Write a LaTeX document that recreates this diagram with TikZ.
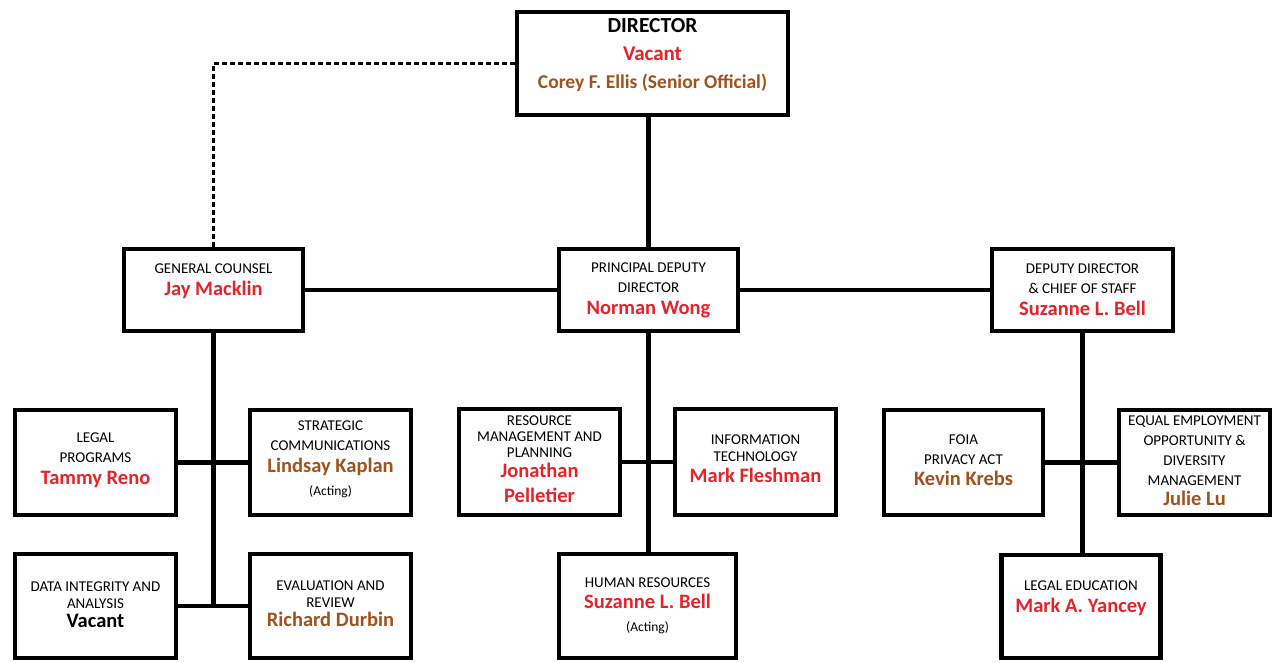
\documentclass[tikz,border=0pt]{standalone}
\usepackage{fontspec}
\setmainfont{Carlito}
\usetikzlibrary{calc}
\definecolor{namered}{HTML}{E52329}
\definecolor{namebrown}{HTML}{A0521E}
% office titles, person names, small notes
\newcommand\lb[1]{{\fontsize{15}{18}\selectfont #1}}
\newcommand\nm[2]{{\fontsize{20.5}{22}\selectfont\bfseries\color{#1}#2}}
\newcommand\nt[1]{{\fontsize{13.5}{16}\selectfont #1}}
\begin{document}
\begin{tikzpicture}[x=1pt,y=-1pt,
  box/.style={draw, line width=4.5pt, rectangle, inner sep=0pt, fill=white},
  link/.style={line width=4.5pt},
  dotlink/.style={line width=2.6pt, dash pattern=on 5pt off 3pt},
  txt/.style={align=center, inner sep=0pt, font=\fontsize{15}{20}\selectfont}]
\useasboundingbox (0,0) rectangle (1273,663);
\fill[white] (0,0) rectangle (1273,663);

% boxes
\node[box, minimum width=271pt, minimum height=103pt] (dir) at (652.5,63.5) {};
\node[box, minimum width=179pt, minimum height=82pt] (gc) at (213.5,290) {};
\node[box, minimum width=179pt, minimum height=82pt] (pd) at (648.5,290) {};
\node[box, minimum width=181pt, minimum height=82pt] (dd) at (1082.5,290) {};

\node[box, minimum width=161pt, minimum height=105pt] (lp) at (95.5,462.5) {};
\node[box, minimum width=161pt, minimum height=105pt] (sc) at (330.5,462.5) {};
\node[box, minimum width=161pt, minimum height=104pt] (di) at (95.5,606) {};
\node[box, minimum width=161pt, minimum height=104pt] (er) at (330.5,606) {};

\node[box, minimum width=161pt, minimum height=106pt] (rm) at (539.5,462) {};
\node[box, minimum width=161pt, minimum height=106pt] (it) at (755.5,462) {};
\node[box, minimum width=177pt, minimum height=104pt] (hr) at (647.5,606) {};

\node[box, minimum width=159pt, minimum height=105pt] (fo) at (963.5,462.5) {};
\node[box, minimum width=151pt, minimum height=105pt] (eeo) at (1194.5,462.5) {};
\node[box, minimum width=159pt, minimum height=103pt] (le) at (1081,606.5) {};

% connectors
\draw[dotlink] (dir.west) -| (gc.north);
\draw[link] (pd.north |- dir.south) -- (pd.north);
\draw[link] (gc.east) -- (pd.west);
\draw[link] (pd.east) -- (dd.west);

\draw[link] (gc.south) -- (gc.south |- di.east);
\draw[link] (lp.east) -- (sc.west);
\draw[link] (di.east) -- (er.west);

\draw[link] (pd.south) -- (pd.south |- hr.north);
\draw[link] (rm.east) -- (it.west);

\draw[link] (dd.south) -- (dd.south |- le.north);
\draw[link] (fo.east) -- (eeo.west);

% texts
\node[txt] (dir-t) at (652.5,55) {{\fontsize{21.5}{28}\selectfont\bfseries DIRECTOR}\\[8pt]
  {\fontsize{21}{28}\selectfont\bfseries\color{namered}Vacant}\\[8pt]
  {\fontsize{19.5}{28}\selectfont\bfseries\color{namebrown}Corey F. Ellis (Senior Official)}};
\node[txt] (gc-t) at (213.5,281) {\lb{GENERAL COUNSEL}\\[2pt] \nm{namered}{Jay Macklin}};
\node[txt] (pd-t) at (648.5,290) {\lb{PRINCIPAL DEPUTY}\\ \lb{DIRECTOR}\\[2pt] \nm{namered}{Norman Wong}};
\node[txt] (dd-t) at (1082.5,290) {\lb{DEPUTY DIRECTOR}\\ \lb{\& CHIEF OF STAFF}\\[2pt] \nm{namered}{Suzanne L. Bell}};

\node[txt] (lp-t) at (95.5,460.5) {\lb{LEGAL}\\ \lb{PROGRAMS}\\[2pt] \nm{namered}{Tammy Reno}};
\node[txt] (sc-t) at (330.5,459) {\lb{STRATEGIC}\\ \lb{COMMUNICATIONS}\\[2pt] \nm{namebrown}{Lindsay Kaplan}\\[3pt] \nt{(Acting)}};
\node[txt] (di-t) at (95.5,604.5) {\lb{DATA INTEGRITY AND}\\[-3pt] \lb{ANALYSIS}\\[-1pt] \nm{black}{Vacant}};
\node[txt] (er-t) at (330.5,604) {\lb{EVALUATION AND}\\[-3pt] \lb{REVIEW}\\[-1pt] \nm{namebrown}{Richard Durbin}};

\node[txt] (rm-t) at (539.5,459) {\lb{RESOURCE}\\[-4pt] \lb{MANAGEMENT AND}\\[-4pt] \lb{PLANNING}\\ \nm{namered}{Jonathan}\\[5pt] \nm{namered}{Pelletier}};
\node[txt] (it-t) at (755.5,459) {\lb{INFORMATION}\\[-3pt] \lb{TECHNOLOGY}\\[1pt] \nm{namered}{Mark Fleshman}};
\node[txt] (hr-t) at (647.5,606) {\lb{HUMAN RESOURCES}\\[1pt] \nm{namered}{Suzanne L. Bell}\\[3pt] \nt{(Acting)}};

\node[txt] (fo-t) at (963.5,460.5) {\lb{FOIA}\\ \lb{PRIVACY ACT}\\[1pt] \nm{namebrown}{Kevin Krebs}};
\node[txt] (eeo-t) at (1194.5,460.5) {\lb{EQUAL EMPLOYMENT}\\ \lb{OPPORTUNITY \&}\\ \lb{DIVERSITY}\\ \lb{MANAGEMENT}\\ \nm{namebrown}{Julie Lu}};
\node[txt] (le-t) at (1081,598) {\lb{LEGAL EDUCATION}\\[2pt] \nm{namered}{Mark A. Yancey}};
\end{tikzpicture}
\end{document}
